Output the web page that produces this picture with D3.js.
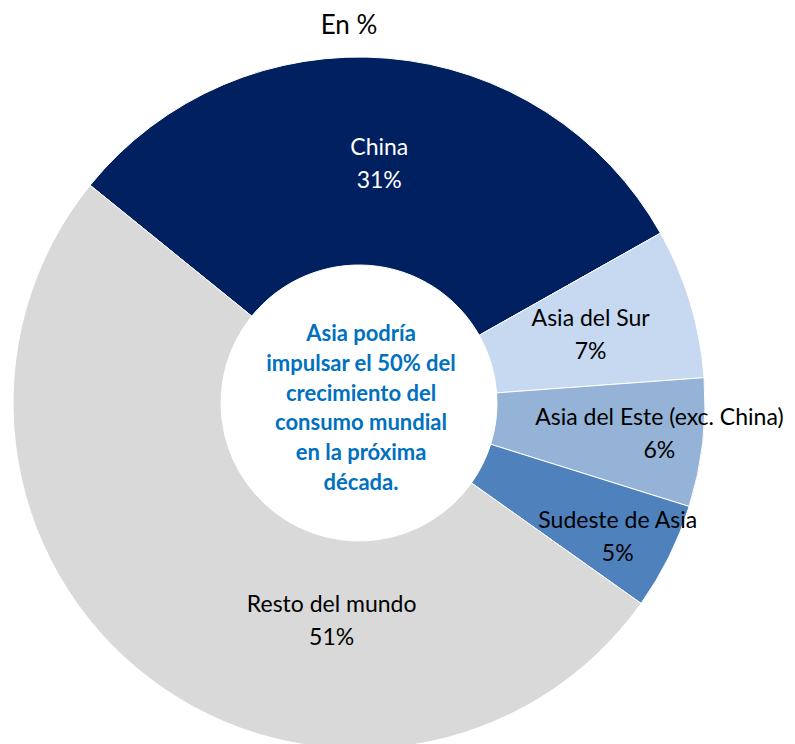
<!DOCTYPE html>
<html>
<head>
<meta charset="utf-8">
<script src="https://cdn.jsdelivr.net/npm/d3@7"></script>
<style>
  body { margin: 0; background: #fff; }
  text { font-family: Lato, "Noto Sans", sans-serif; }
</style>
</head>
<body>
<div id="chart"></div>
<script>
// data
var regions = ["China", "Asia del Sur", "Asia del Este (exc. China)", "Sudeste de Asia", "Resto del mundo"]
var shares = [31, 7, 6, 5, 51]
var colors = ["#002060", "#C6D9F1", "#95B3D7", "#4F81BD", "#D9D9D9"]
var centerLines = ["Asia podría", "impulsar el 50% del", "crecimiento del", "consumo mundial", "en la próxima", "década."]

var width = 795, height = 744
var cx = 359, cy = 403
var outerR = 346, innerR = 138

// label nudges (Excel moved some labels by hand)
var labelShift = [[0, 2], [0, 2], [60, 3], [42, 26], [119, 25]]

var svg = d3.select("#chart").append("svg")
  .attr("width", width)
  .attr("height", height)

svg.append("text")
  .attr("x", 349)
  .attr("y", 34)
  .attr("text-anchor", "middle")
  .style("font-size", "26px")
  .attr("fill", "#000")
  .text("En %")

var g = svg.append("g")
  .attr("transform", "translate(" + cx + "," + cy + ")")

var pie = d3.pie()
  .sort(null)
  .value(function(d) { return d.value })
  .startAngle(-51 * Math.PI / 180)
  .endAngle(309 * Math.PI / 180)

var data = regions.map(function(r, i) { return {name: r, value: shares[i], color: colors[i]} })
var arcs = pie(data)

var arc = d3.arc().innerRadius(innerR).outerRadius(outerR)

g.selectAll("path.slice")
  .data(arcs)
  .enter()
  .append("path")
    .attr("class", "slice")
    .attr("d", arc)
    .attr("fill", function(d) { return d.data.color })
    .attr("stroke", "#fff")
    .attr("stroke-width", 1)

var labels = g.selectAll("g.lab")
  .data(arcs)
  .enter()
  .append("g")
    .attr("class", "lab")
    .attr("transform", function(d, i) {
      var c = arc.centroid(d)
      return "translate(" + (c[0] + labelShift[i][0]) + "," + (c[1] + labelShift[i][1]) + ")"
    })

labels.append("text")
  .attr("text-anchor", "middle")
  .attr("y", -9)
  .style("font-size", "23px")
  .attr("fill", function(d, i) { return i == 0 ? "#fff" : "#000" })
  .text(function(d) { return d.data.name })

labels.append("text")
  .attr("text-anchor", "middle")
  .attr("y", 24)
  .style("font-size", "23px")
  .attr("fill", function(d, i) { return i == 0 ? "#fff" : "#000" })
  .text(function(d) { return d.data.value + "%" })

// center note
g.selectAll("text.note")
  .data(centerLines)
  .enter()
  .append("text")
    .attr("class", "note")
    .attr("x", 2)
    .attr("y", function(d, i) { return -62 + i * 29.8 })
    .attr("text-anchor", "middle")
    .style("font-size", "22px")
    .style("font-weight", "bold")
    .attr("fill", "#0070C0")
    .text(function(d) { return d })
</script>
</body>
</html>
